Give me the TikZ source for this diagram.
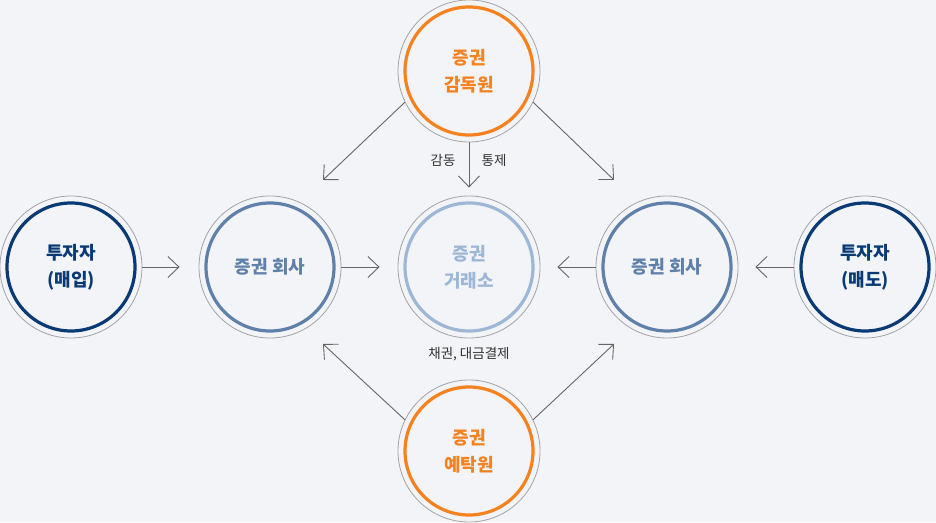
\documentclass[tikz,border=0pt]{standalone}
\usepackage{fontspec}
\setmainfont{Noto Sans CJK KR}
\usetikzlibrary{arrows.meta}
\definecolor{BgClr}{HTML}{F3F4F8}
\definecolor{RimClr}{HTML}{A3A3A3}
\definecolor{OrgClr}{HTML}{F5821F}
\definecolor{NavyClr}{HTML}{0A3A74}
\definecolor{FirmClr}{HTML}{5F80AA}
\definecolor{MktClr}{HTML}{9DB7D6}
\definecolor{ArrClr}{HTML}{666666}

\begin{document}
\begin{tikzpicture}[x=1pt,y=1pt,
  rim/.style={circle,draw=RimClr,line width=.8pt,minimum size=142pt,inner sep=0pt,
    align=center,font=\fontsize{18}{27}\selectfont\bfseries},
  ring/.style={line width=3.2pt},
  arr/.style={draw=ArrClr,line width=.9pt,-{Straight Barb[length=11pt,width=21pt]}},
  lbl/.style={font=\fontsize{13.5}{15}\selectfont,text=black!80}]
\fill[BgClr] (0,0) rectangle (936,522);
\useasboundingbox (0,0) rectangle (936,522);

% circles
\node[rim,text=OrgClr] (sup) at (469,451) {증권\\감독원};
\node[rim,text=OrgClr] (dep) at (469,71) {증권\\예탁원};
\node[rim,text=MktClr] (mkt) at (469,255) {증권\\거래소};
\node[rim,text=NavyClr] (buy) at (71,255) {투자자\\(매입)};
\node[rim,text=NavyClr] (sell) at (865,255) {투자자\\(매도)};
\node[rim,text=FirmClr] (firmL) at (270,255) {증권 회사};
\node[rim,text=FirmClr] (firmR) at (667,255) {증권 회사};

\draw[ring,OrgClr] (sup.center) circle[radius=64pt];
\draw[ring,OrgClr] (dep.center) circle[radius=64pt];
\draw[ring,MktClr] (mkt.center) circle[radius=64pt];
\draw[ring,NavyClr] (buy.center) circle[radius=64pt];
\draw[ring,NavyClr] (sell.center) circle[radius=64pt];
\draw[ring,FirmClr] (firmL.center) circle[radius=64pt];
\draw[ring,FirmClr] (firmR.center) circle[radius=64pt];

% free ends of the diagonals
\coordinate (supL) at (323,342);
\coordinate (supR) at (614,342);
\coordinate (depL) at (323,178);
\coordinate (depR) at (614,178);

% arrows
\draw[arr,shorten >=19pt] (buy) -- (firmL);
\draw[arr,shorten >=18pt] (firmL) -- (mkt);
\draw[arr,shorten >=17pt] (firmR) -- (mkt);
\draw[arr,shorten >=17pt] (sell) -- (firmR);
\draw[arr,shorten >=8pt] (sup) -- (mkt);
\draw[arr] (sup.206) -- (supL);
\draw[arr] (sup.-26) -- (supR);
\draw[arr] (dep.154) -- (depL);
\draw[arr] (dep.26) -- (depR);

\node[lbl] (ctlA) at (443,362) {감동};
\node[lbl] (ctlB) at (494,362) {통제};
\node[lbl] (pay) at (469,168) {채권, 대금결제};

\end{tikzpicture}
\end{document}
